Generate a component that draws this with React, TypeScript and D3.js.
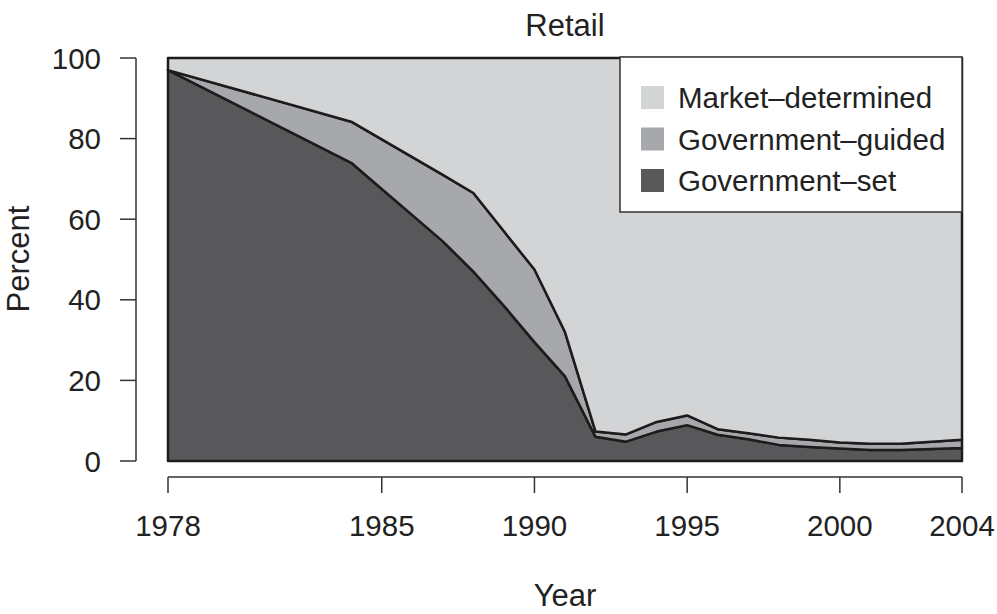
import React from "react";
import * as d3 from "d3";

const years = [1978, 1984, 1985, 1986, 1987, 1988, 1989, 1990, 1991, 1992, 1993, 1994, 1995, 1996, 1997, 1998, 1999, 2000, 2001, 2002, 2003, 2004];
// Government-set share (%)
const govSet = [97, 74, 67.5, 61, 54.5, 47, 38.5, 29.5, 21, 6, 4.8, 7.3, 8.9, 6.5, 5.4, 4.0, 3.5, 3.1, 2.7, 2.7, 3.0, 3.2];
// Government-guided share (%)
const govGuided = [0, 10.2, 12.3, 14.4, 16.5, 19.5, 18.5, 18, 11, 1.3, 1.8, 2.4, 2.4, 1.4, 1.5, 1.8, 1.8, 1.5, 1.6, 1.6, 1.8, 2.1];
// Market-determined share (%)
const market = govSet.map((v, i) => +(100 - v - govGuided[i]).toFixed(2));

const xTicks = [1978, 1985, 1990, 1995, 2000, 2004];
const yTicks = [0, 20, 40, 60, 80, 100];
const seriesKeys = ["set", "guided", "market"];
const legendLabels = ["Market\u2013determined", "Government\u2013guided", "Government\u2013set"];
const colors: Record<string, string> = { set: "#58585a", guided: "#a7a8ab", market: "#d3d4d6" };

const FONT = "'Liberation Sans', Arial, Helvetica, sans-serif";

export default function App() {
  const x = d3.scaleLinear().domain([1978, 2004]).range([168, 962]);
  const y = d3.scaleLinear().domain([0, 100]).range([461, 58]);

  const rows = years.map((yr, i) => ({ year: yr, set: govSet[i], guided: govGuided[i], market: market[i] }));
  const stacked = d3.stack<any>().keys(seriesKeys)(rows);
  const area = d3
    .area<any>()
    .x((d) => x(d.data.year))
    .y0((d) => y(d[0]))
    .y1((d) => y(d[1]));

  const legendKeys = ["market", "guided", "set"];

  return (
    <svg width={997} height={614} style={{ position: "absolute", left: 0, top: 0, background: "#fff" }} fontFamily={FONT}>
      {stacked.map((s) => (
        <path key={s.key} d={area(s) || ""} fill={colors[s.key]} stroke="#1c1c1c" strokeWidth={2.5} strokeLinejoin="round" />
      ))}

      {/* y axis */}
      <line x1={136} x2={136} y1={y(0)} y2={y(100)} stroke="#333" strokeWidth={1.5} />
      {yTicks.map((t) => (
        <g key={t}>
          <line x1={120} x2={136} y1={y(t)} y2={y(t)} stroke="#333" strokeWidth={1.5} />
          <text x={101} y={y(t) + 10.5} textAnchor="end" fontSize={29.5} fill="#222">
            {t}
          </text>
        </g>
      ))}

      {/* x axis */}
      <line x1={x(1978)} x2={x(2004)} y1={477} y2={477} stroke="#333" strokeWidth={1.5} />
      {xTicks.map((t) => (
        <g key={t}>
          <line x1={x(t)} x2={x(t)} y1={477} y2={493} stroke="#333" strokeWidth={1.5} />
          <text x={x(t)} y={536} textAnchor="middle" fontSize={29.5} fill="#222">
            {t}
          </text>
        </g>
      ))}

      <text x={565} y={36} textAnchor="middle" fontSize={31} fill="#222">Retail</text>
      <text x={565} y={606} textAnchor="middle" fontSize={31} fill="#222">Year</text>
      <text transform={`translate(29,259) rotate(-90)`} textAnchor="middle" fontSize={31} fill="#222">Percent</text>

      {/* legend */}
      <rect x={620} y={57} width={342} height={155} fill="#fff" stroke="#333" strokeWidth={1.5} />
      {legendKeys.map((k, i) => (
        <g key={k}>
          <rect x={641} y={86 + i * 41.5} width={23} height={23} fill={colors[k]} />
          <text x={678} y={108 + i * 41.5} fontSize={29.5} fill="#222">
            {legendLabels[i]}
          </text>
        </g>
      ))}
    </svg>
  );
}
